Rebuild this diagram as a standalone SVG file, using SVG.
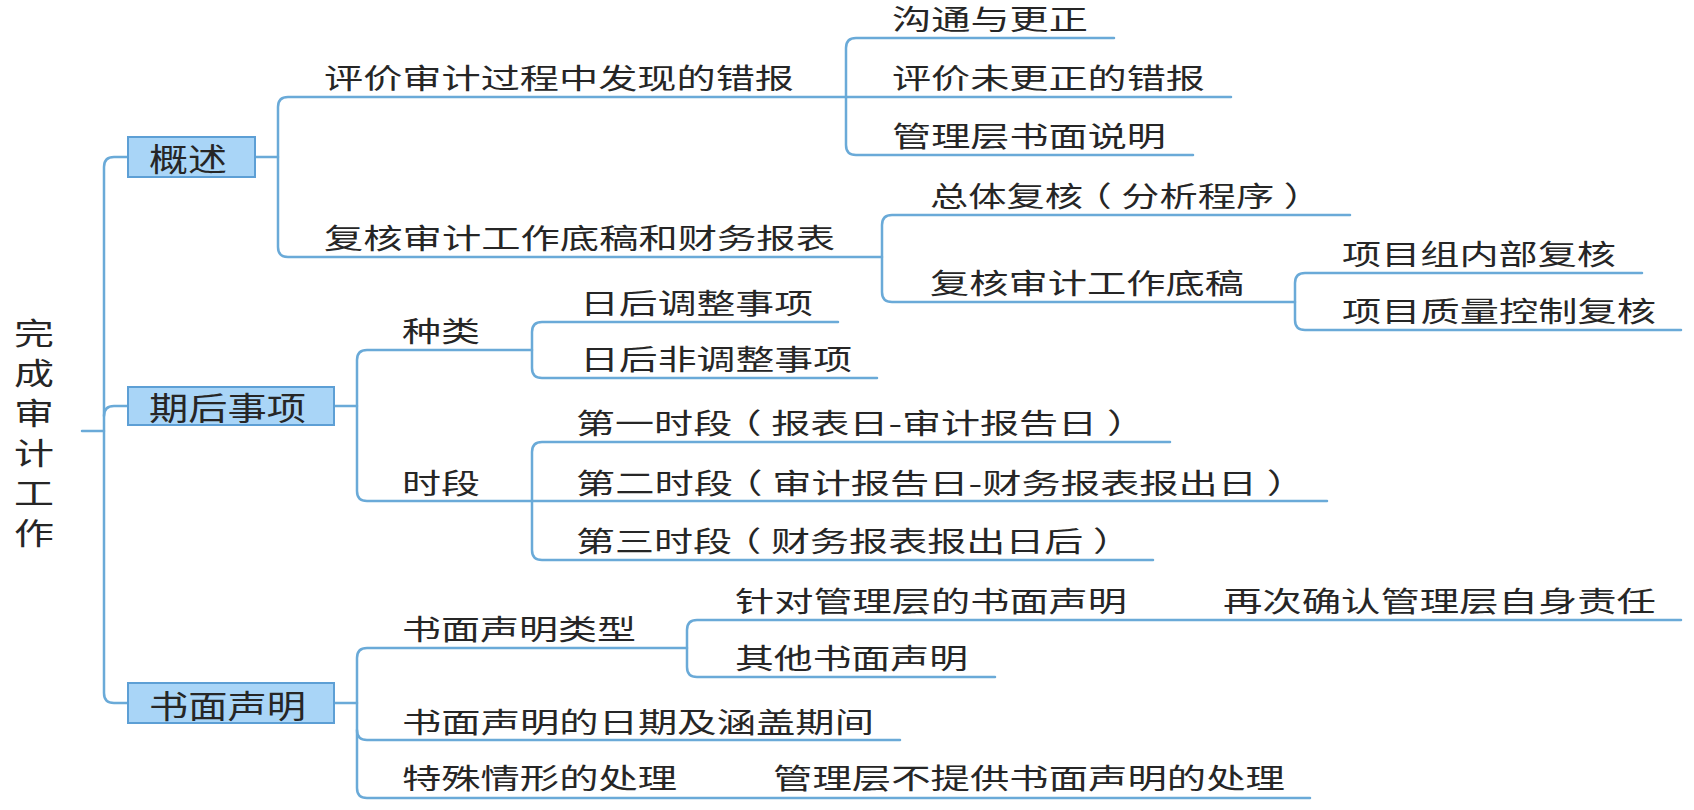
<svg xmlns="http://www.w3.org/2000/svg" width="1694" height="810" viewBox="0 0 1694 810">
<style>
.ln{fill:none;stroke:#6aaad8;stroke-width:2.5;stroke-linecap:round;stroke-linejoin:round}
.t{font-family:"Noto Sans CJK SC","Noto Sans CJK TC",sans-serif;font-size:28px;fill:#262626}
.bt{font-size:32px}
.rt{font-size:30px}
.box{fill:#a9d5f7;stroke:#5d9fd5;stroke-width:2}
</style>
<rect width="1694" height="810" fill="#ffffff"/>
<g id="connectors">
<path class="ln" d="M82,431 H104"/>
<path class="ln" d="M128,157 H114 Q104,157 104,167 V693 Q104,703 114,703 H128"/>
<path class="ln" d="M104,416 Q104,406 114,406 H128"/>
<path class="ln" d="M255,157 H278"/>
<path class="ln" d="M846,97 H288 Q278,97 278,107 V247 Q278,257 288,257 H882"/>
<path class="ln" d="M1114,38 H856 Q846,38 846,48 V145 Q846,155 856,155 H1193"/>
<path class="ln" d="M846,97 H1231"/>
<path class="ln" d="M1350,215 H892 Q882,215 882,225 V292 Q882,302 892,302 H1295"/>
<path class="ln" d="M1642,273 H1305 Q1295,273 1295,283 V320 Q1295,330 1305,330 H1681"/>
<path class="ln" d="M334,406 H357"/>
<path class="ln" d="M532,350 H367 Q357,350 357,360 V491 Q357,501 367,501 H532"/>
<path class="ln" d="M838,322 H542 Q532,322 532,332 V368 Q532,378 542,378 H877"/>
<path class="ln" d="M1170,442 H542 Q532,442 532,452 V550 Q532,560 542,560 H1153"/>
<path class="ln" d="M532,501 H1327"/>
<path class="ln" d="M334,703 H357"/>
<path class="ln" d="M687,648 H367 Q357,648 357,658 V788 Q357,798 367,798 H1310"/>
<path class="ln" d="M357,730 Q357,740 367,740 H900"/>
<path class="ln" d="M1681,620 H697 Q687,620 687,630 V667 Q687,677 697,677 H995"/>
</g>
<g id="root">
<text class="t rt" x="14" y="344" textLength="40" lengthAdjust="spacingAndGlyphs">完</text>
<text class="t rt" x="14" y="384" textLength="40" lengthAdjust="spacingAndGlyphs">成</text>
<text class="t rt" x="14" y="424" textLength="40" lengthAdjust="spacingAndGlyphs">审</text>
<text class="t rt" x="14" y="464" textLength="40" lengthAdjust="spacingAndGlyphs">计</text>
<text class="t rt" x="14" y="504" textLength="40" lengthAdjust="spacingAndGlyphs">工</text>
<text class="t rt" x="14" y="544" textLength="40" lengthAdjust="spacingAndGlyphs">作</text>
</g>
<g id="n1"><rect class="box" x="128" y="137" width="127" height="40"/><text class="t bt" x="149" y="171" textLength="78" lengthAdjust="spacingAndGlyphs">概述</text></g>
<g id="n2"><rect class="box" x="128" y="387" width="206" height="38"/><text class="t bt" x="149" y="420" textLength="157" lengthAdjust="spacingAndGlyphs">期后事项</text></g>
<g id="n3"><rect class="box" x="128" y="683" width="206" height="40"/><text class="t bt" x="149" y="718" textLength="157" lengthAdjust="spacingAndGlyphs">书面声明</text></g>
<g id="n11"><text class="t" x="324" y="89" textLength="470" lengthAdjust="spacingAndGlyphs">评价审计过程中发现的错报</text></g>
<g id="n111"><text class="t" x="892" y="30" textLength="196" lengthAdjust="spacingAndGlyphs">沟通与更正</text></g>
<g id="n112"><text class="t" x="892" y="89" textLength="313" lengthAdjust="spacingAndGlyphs">评价未更正的错报</text></g>
<g id="n113"><text class="t" x="892" y="147" textLength="274" lengthAdjust="spacingAndGlyphs">管理层书面说明</text></g>
<g id="n12"><text class="t" x="324" y="249" textLength="511" lengthAdjust="spacingAndGlyphs">复核审计工作底稿和财务报表</text></g>
<g id="n121"><text class="t" x="930" y="207" textLength="392" lengthAdjust="spacingAndGlyphs">总体复核<tspan dx="-7">（</tspan><tspan dx="7">分析程序</tspan><tspan dx="7">）</tspan></text></g>
<g id="n122"><text class="t" x="930" y="294" textLength="314" lengthAdjust="spacingAndGlyphs">复核审计工作底稿</text></g>
<g id="n1221"><text class="t" x="1342" y="265" textLength="274" lengthAdjust="spacingAndGlyphs">项目组内部复核</text></g>
<g id="n1222"><text class="t" x="1342" y="322" textLength="314" lengthAdjust="spacingAndGlyphs">项目质量控制复核</text></g>
<g id="n21"><text class="t" x="402" y="342" textLength="78" lengthAdjust="spacingAndGlyphs">种类</text></g>
<g id="n211"><text class="t" x="580" y="314" textLength="233" lengthAdjust="spacingAndGlyphs">日后调整事项</text></g>
<g id="n212"><text class="t" x="580" y="370" textLength="272" lengthAdjust="spacingAndGlyphs">日后非调整事项</text></g>
<g id="n22"><text class="t" x="402" y="494" textLength="78" lengthAdjust="spacingAndGlyphs">时段</text></g>
<g id="n221"><text class="t" x="576" y="434" textLength="570" lengthAdjust="spacingAndGlyphs">第一时段<tspan dx="-7">（</tspan><tspan dx="7">报表日-审计报告日</tspan><tspan dx="7">）</tspan></text></g>
<g id="n222"><text class="t" x="576" y="494" textLength="730" lengthAdjust="spacingAndGlyphs">第二时段<tspan dx="-7">（</tspan><tspan dx="7">审计报告日-财务报表报出日</tspan><tspan dx="7">）</tspan></text></g>
<g id="n223"><text class="t" x="576" y="552" textLength="556" lengthAdjust="spacingAndGlyphs">第三时段<tspan dx="-7">（</tspan><tspan dx="7">财务报表报出日后</tspan><tspan dx="7">）</tspan></text></g>
<g id="n31"><text class="t" x="402" y="640" textLength="234" lengthAdjust="spacingAndGlyphs">书面声明类型</text></g>
<g id="n311"><text class="t" x="735" y="612" textLength="392" lengthAdjust="spacingAndGlyphs">针对管理层的书面声明</text></g>
<g id="n3111"><text class="t" x="1223" y="612" textLength="433" lengthAdjust="spacingAndGlyphs">再次确认管理层自身责任</text></g>
<g id="n312"><text class="t" x="735" y="669" textLength="233" lengthAdjust="spacingAndGlyphs">其他书面声明</text></g>
<g id="n32"><text class="t" x="402" y="733" textLength="472" lengthAdjust="spacingAndGlyphs">书面声明的日期及涵盖期间</text></g>
<g id="n33"><text class="t" x="402" y="789" textLength="275" lengthAdjust="spacingAndGlyphs">特殊情形的处理</text></g>
<g id="n331"><text class="t" x="773" y="789" textLength="512" lengthAdjust="spacingAndGlyphs">管理层不提供书面声明的处理</text></g>
</svg>
